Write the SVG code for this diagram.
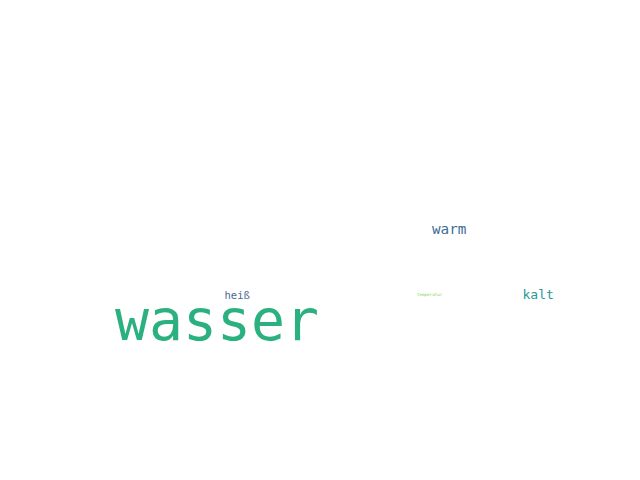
<svg xmlns="http://www.w3.org/2000/svg" width="640" height="480" viewBox="0 0 640 480">
<style>
text{font-family:"DejaVu Sans Mono","Liberation Mono",monospace;}
</style>
<rect width="640" height="480" fill="#ffffff"/>
<g id="w-wasser"><text x="115" y="340" font-size="56.5" fill="#2bb07f">wasser</text></g>
<g id="w-warm"><text x="432" y="233.5" font-size="14.3" fill="#3b6d93">warm</text></g>
<g id="w-kalt"><text x="522.5" y="298.7" font-size="13" fill="#2a9896">kalt</text></g>
<g id="w-heiss"><text x="224.5" y="299" font-size="10.5" fill="#4f6a95">heiß</text></g>
<g id="w-temperatur"><text x="417" y="296" font-size="4.2" fill="#7fd34e">temperatur</text></g>
<g id="connectors"></g>
</svg>
